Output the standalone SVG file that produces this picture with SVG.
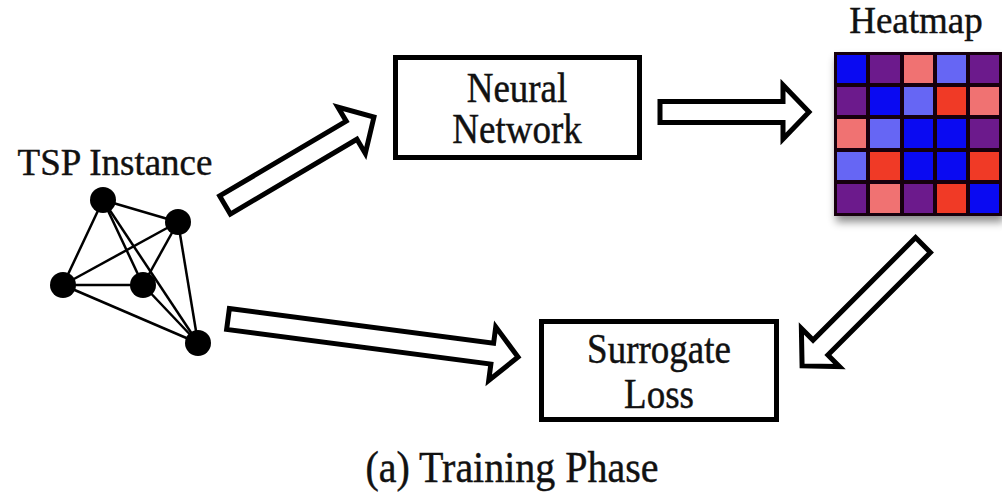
<svg xmlns="http://www.w3.org/2000/svg" width="1002" height="494" viewBox="0 0 1002 494">
<style>
.t{font-family:"Liberation Serif","Times New Roman",serif;font-size:37px;fill:#111;stroke:#111;stroke-width:0.4;text-anchor:middle}
.box{fill:#fff;stroke:#000;stroke-width:5}
.arr{fill:#fff;stroke:#000;stroke-width:5;stroke-linejoin:miter}
.e{stroke:#000;stroke-width:2.5}
.n{fill:#000}
.B{fill:#0a0af2}.P{fill:#6c1a8c}.S{fill:#f07272}.L{fill:#6666f4}.R{fill:#f03a26}
</style>
<defs>
<filter id="sh" x="-10%" y="-10%" width="130%" height="130%">
<feDropShadow dx="2" dy="6" stdDeviation="4" flood-color="#000" flood-opacity="0.45"/>
</filter>
</defs>
<rect width="1002" height="494" fill="#fff"/>

<g id="tsp">
<text class="t" x="115" y="175">TSP Instance</text>
<g>
<line class="e" x1="103" y1="200" x2="178" y2="222"/>
<line class="e" x1="103" y1="200" x2="63" y2="285"/>
<line class="e" x1="103" y1="200" x2="143" y2="285"/>
<line class="e" x1="103" y1="200" x2="198" y2="343"/>
<line class="e" x1="178" y1="222" x2="63" y2="285"/>
<line class="e" x1="178" y1="222" x2="143" y2="285"/>
<line class="e" x1="178" y1="222" x2="198" y2="343"/>
<line class="e" x1="63" y1="285" x2="143" y2="285"/>
<line class="e" x1="63" y1="285" x2="198" y2="343"/>
<line class="e" x1="143" y1="285" x2="198" y2="343"/>
<circle class="n" cx="103" cy="200" r="13"/>
<circle class="n" cx="178" cy="222" r="13"/>
<circle class="n" cx="63" cy="285" r="13"/>
<circle class="n" cx="143" cy="285" r="13"/>
<circle class="n" cx="198" cy="343" r="13"/>
</g>
</g>

<g id="neural-network">
<rect class="box" x="395.5" y="57.5" width="244" height="100"/>
<text class="t" transform="translate(517,102) scale(1,1.12)">Neural</text>
<text class="t" transform="translate(517,143) scale(1,1.12)">Network</text>
</g>

<g id="heatmap">
<text class="t" x="916" y="33">Heatmap</text>
<rect x="834" y="52" width="168" height="164" fill="#120010" filter="url(#sh)"/>
<g>
<rect class="B" x="837" y="55" width="29" height="28"/>
<rect class="P" x="870" y="55" width="30" height="28"/>
<rect class="S" x="904" y="55" width="29" height="28"/>
<rect class="L" x="937" y="55" width="29" height="28"/>
<rect class="P" x="970" y="55" width="29" height="28"/>

<rect class="P" x="837" y="87" width="29" height="28"/>
<rect class="B" x="870" y="87" width="30" height="28"/>
<rect class="L" x="904" y="87" width="29" height="28"/>
<rect class="R" x="937" y="87" width="29" height="28"/>
<rect class="S" x="970" y="87" width="29" height="28"/>

<rect class="S" x="837" y="119" width="29" height="29"/>
<rect class="L" x="870" y="119" width="30" height="29"/>
<rect class="B" x="904" y="119" width="29" height="29"/>
<rect class="B" x="937" y="119" width="29" height="29"/>
<rect class="P" x="970" y="119" width="29" height="29"/>

<rect class="L" x="837" y="152" width="29" height="28"/>
<rect class="R" x="870" y="152" width="30" height="28"/>
<rect class="B" x="904" y="152" width="29" height="28"/>
<rect class="B" x="937" y="152" width="29" height="28"/>
<rect class="R" x="970" y="152" width="29" height="28"/>

<rect class="P" x="837" y="184" width="29" height="29"/>
<rect class="S" x="870" y="184" width="30" height="29"/>
<rect class="P" x="904" y="184" width="29" height="29"/>
<rect class="R" x="937" y="184" width="29" height="29"/>
<rect class="B" x="970" y="184" width="29" height="29"/>
</g>
</g>

<g id="surrogate-loss">
<rect class="box" x="541.5" y="321.5" width="235" height="98"/>
<text class="t" transform="translate(659,363) scale(1,1.12)">Surrogate</text>
<text class="t" transform="translate(659,408) scale(1,1.12)">Loss</text>
</g>

<g id="connectors">
<polygon class="arr" transform="translate(225,205) rotate(-30.57)" points="0,-10.5 147,-10.5 147,-27 173,0 147,27 147,10.5 0,10.5"/>
<polygon class="arr" transform="translate(660,112)" points="0,-10.5 123,-10.5 123,-27 149,0 123,27 123,10.5 0,10.5"/>
<polygon class="arr" transform="translate(228,319) rotate(7.47)" points="0,-10.5 266.5,-10.5 266.5,-27 292.5,0 266.5,27 266.5,10.5 0,10.5"/>
<polygon class="arr" transform="translate(923,245) rotate(135)" points="0,-10.5 145,-10.5 145,-27 171,0 145,27 145,10.5 0,10.5"/>
</g>

<text class="t" transform="translate(512,482) scale(1,1.12)" style="font-size:40px">(a) Training Phase</text>
</svg>
